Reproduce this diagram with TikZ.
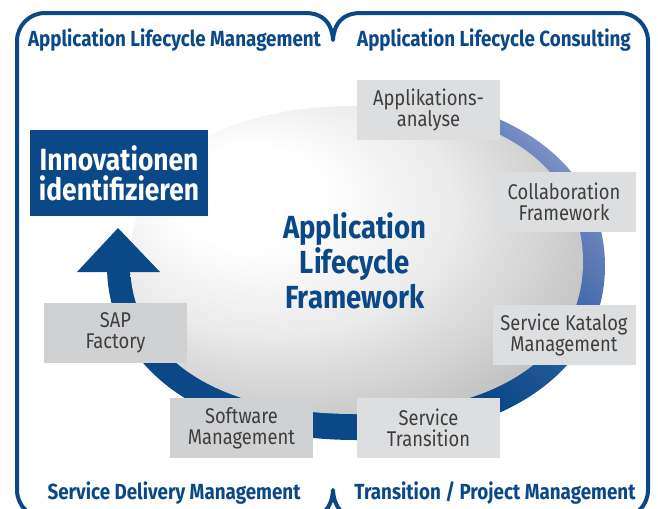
\documentclass[tikz,border=0pt]{standalone}
\usepackage{fontspec}
\setmainfont{Fira Sans}[FakeStretch=0.86]
\definecolor{alfblue}{RGB}{10,72,135}
\definecolor{alfdeep}{RGB}{38,90,155}
\definecolor{alfmid}{RGB}{100,126,186}
\definecolor{alflight}{RGB}{160,174,215}
\definecolor{boxgray}{RGB}{221,222,224}
\definecolor{boxgraydark}{RGB}{208,209,211}
\definecolor{boxtext}{RGB}{62,62,62}
\pgfdeclarehorizontalshading{bandshade}{100bp}{color(0bp)=(alfblue); color(50bp)=(alfblue); color(60bp)=(alfdeep); color(72bp)=(alfmid); color(82bp)=(alflight); color(100bp)=(alflight)}
\pgfdeclareradialshading{sphereshade}{\pgfpoint{-14bp}{12bp}}{color(0bp)=(white); color(8bp)=(white); color(20bp)=(black!8); color(42bp)=(black!33); color(60bp)=(black!38)}
\tikzset{
	alfframe/.style={draw=alfblue, line width=3pt, line join=round},
	alfbox/.style={fill=boxgray, text=boxtext, align=center, inner sep=0pt, minimum width=107.25pt, minimum height=45pt, font=\fontsize{16}{15.75}\selectfont},
	alftitle/.style={text=alfblue, inner sep=0pt, font=\fontsize{16.4}{18}\selectfont\bfseries},
}
\begin{document}
\begin{tikzpicture}[x=0.75pt, y=-0.75pt]
	\useasboundingbox (0,0) rectangle (658,508);
	\clip (0,0) rectangle (658,508);
	
	\begin{scope}%Ring
		\clip (356,266) -- (430,0) -- (700,0) -- (700,600) -- (0,600) -- (0,266) -- cycle;
		\shade[shading=bandshade, shading angle=45] (107,266) .. controls (107,162) and (207,92) .. (356,92) .. controls (505,92) and (605,162) .. (605,266) .. controls (605,370) and (505,440) .. (356,440) .. controls (207,440) and (107,370) .. (107,266) -- cycle;
	\end{scope}
	
	\shade[shading=sphereshade] (130,262) .. controls (130,165) and (215,106) .. (355,106) .. controls (496,106) and (583,165) .. (583,262) .. controls (583,356) and (496,414) .. (355,414) .. controls (215,414) and (130,356) .. (130,262) -- cycle;%Kugel
	
	\fill[alfblue] (77,272) -- (118,228) -- (160,272) -- cycle;%Pfeilspitze
	
	\node[alfbox] (analyse) at (428.5,110) {Applikations-\\analyse};
	\node[alfbox] (collab) at (564,202) {Collaboration\\Framework};
	\node[alfbox] (katalog) at (564,335) {Service Katalog\\Management};
	\node[alfbox] (transition) at (428.5,428) {Service\\Transition};
	\node[alfbox, fill=boxgraydark] (software) at (241.5,428) {Software\\Management};
	\node[alfbox, fill=boxgraydark] (factory) at (115.5,333) {SAP\\Factory};
	
	\node[fill=alfblue, text=white, align=center, inner sep=0pt, minimum width=133.5pt, minimum height=64.5pt, font=\fontsize{23}{22.5}\selectfont\bfseries] (innov) at (119,173) {Innovationen\\identifizieren};
	
	\node[text=alfblue, align=center, font=\fontsize{24}{26.25}\selectfont\bfseries] (alf) at (355,261) {Application\\Lifecycle\\Framework};
	
	\node[alftitle] (alm) at (174.5,40) {Application Lifecycle Management};
	\node[alftitle] (alc) at (494,40) {Application Lifecycle Consulting};
	\node[alftitle] (sdm) at (174,493) {Service Delivery Management};
	\node[alftitle] (tpm) at (495,493) {Transition / Project Management};
	
	\draw[alfframe] (333,40) .. controls (332,24) and (324,13) .. (305,13) -- (45,13) arc[start angle=-90, end angle=-180, radius=28] -- (17,490) arc[start angle=180, end angle=90, radius=28] -- (305,518) .. controls (324,518) and (332,507) .. (333,490) .. controls (334,507) and (342,518) .. (361,518) -- (620,518) arc[start angle=90, end angle=0, radius=28] -- (648,41) arc[start angle=0, end angle=-90, radius=28] -- (361,13) .. controls (342,13) and (334,24) .. (333,40) -- cycle;%Rahmen
\end{tikzpicture}
\end{document}
